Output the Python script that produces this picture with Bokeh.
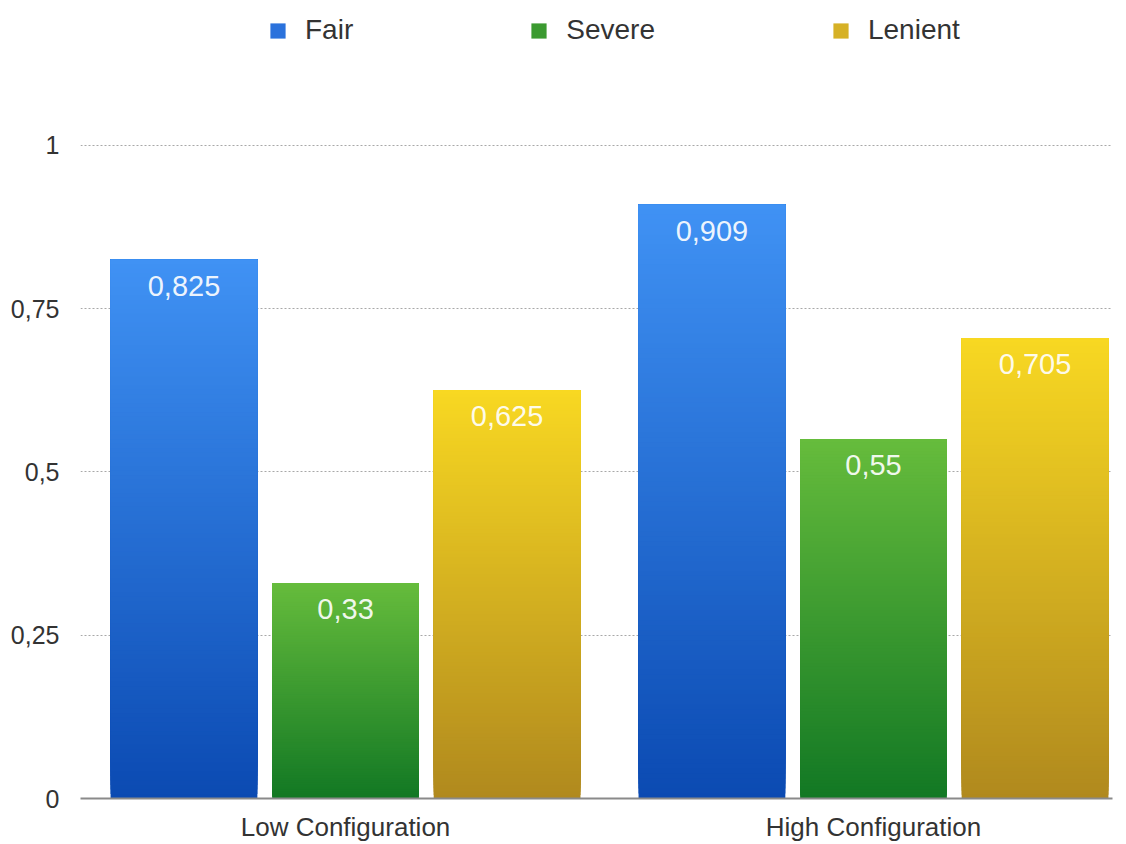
from bokeh.plotting import figure
from bokeh.models import FixedTicker, Legend, LegendItem, ColumnDataSource, Range1d
from bokeh.core.properties import value
from bokeh.embed import file_html
from bokeh.resources import INLINE

# ---- data ----
categories = ["Low Configuration", "High Configuration"]
series = ["Fair", "Severe", "Lenient"]
fair = [0.825, 0.909]
severe = [0.33, 0.55]
lenient = [0.625, 0.705]
y_ticks = [0, 0.25, 0.5, 0.75, 1]
y_tick_labels = ["0", "0,25", "0,5", "0,75", "1"]

# ---- styles ----
top_colors = {"Fair": (64, 146, 244), "Severe": (102, 188, 60), "Lenient": (248, 216, 34)}
bot_colors = {"Fair": (11, 74, 178), "Severe": (18, 120, 36), "Lenient": (176, 137, 30)}
mid_colors = {"Fair": "#2b72dc", "Severe": "#3b9a30", "Lenient": "#d6b126"}
offsets = [-0.306, 0.0, 0.306]
bar_w = 0.278
N = 120

p = figure(width=1126, height=844, output_backend="svg", toolbar_location=None,
           x_range=Range1d(-0.502, 1.4527), y_range=Range1d(0, 799 / 654.0),
           min_border_left=80, min_border_right=14, min_border_top=0, min_border_bottom=45)
p.outline_line_color = None
p.background_fill_color = "white"
p.border_fill_color = "white"

data = {"Fair": fair, "Severe": severe, "Lenient": lenient}

def hexc(c):
    return "#%02x%02x%02x" % tuple(int(round(v)) for v in c)

label_x, label_y, label_t = [], [], []
legend_items = []
for si, s in enumerate(series):
    left, right, bottom, top, cols = [], [], [], [], []
    for gi, v in enumerate(data[s]):
        cx = gi + offsets[si]
        for k in range(N):
            t = (k + 0.5) / N
            c = [bot_colors[s][j] + (top_colors[s][j] - bot_colors[s][j]) * t for j in range(3)]
            left.append(cx - bar_w / 2)
            right.append(cx + bar_w / 2)
            bottom.append(v * k / N)
            top.append(v)
            cols.append(hexc(c))
        label_x.append(cx)
        label_y.append(v)
        label_t.append(("%g" % v).replace(".", ","))
    src = ColumnDataSource(dict(left=left, right=right, bottom=bottom, top=top, c=cols))
    p.quad(left="left", right="right", bottom="bottom", top="top", source=src,
           fill_color="c", line_color=None)
    # legend proxy (flat mid colour), drawn outside the visible range
    r = p.quad(left=[0], right=[0.1], bottom=[-2], top=[-1.9], fill_color=mid_colors[s],
               line_color=None)
    legend_items.append(LegendItem(label=s, renderers=[r]))

p.text(x=label_x, y=label_y, text=label_t, text_color="white", text_alpha=0.92,
       text_font=value("Liberation Sans"), text_font_size="29px",
       text_align="center", text_baseline="middle", y_offset=26)

legend = Legend(items=legend_items, orientation="horizontal", location=(188, 752),
                spacing=176, padding=0, margin=0, glyph_width=19, glyph_height=19,
                label_standoff=18, label_text_font="Liberation Sans",
                label_text_font_size="28px", label_text_color="#333333",
                border_line_color=None, background_fill_alpha=0)
p.add_layout(legend)

# axes
p.xaxis.ticker = FixedTicker(ticks=[0, 1])
p.xaxis.major_label_overrides = {0: categories[0], 1: categories[1]}
p.xaxis.major_tick_line_color = None
p.xaxis.minor_tick_line_color = None
p.xaxis.axis_line_color = "#8a8a8a"
p.xaxis.axis_line_width = 2
p.xaxis.major_label_text_font = "Liberation Sans"
p.xaxis.major_label_text_font_size = "26px"
p.xaxis.major_label_text_color = "#333333"
p.xaxis.major_label_standoff = 7

p.yaxis.ticker = FixedTicker(ticks=y_ticks)
p.yaxis.major_label_overrides = {t: l for t, l in zip(y_ticks, y_tick_labels)}
p.yaxis.major_tick_line_color = None
p.yaxis.minor_tick_line_color = None
p.yaxis.axis_line_color = None
p.yaxis.major_label_text_font = "Liberation Sans"
p.yaxis.major_label_text_font_size = "25px"
p.yaxis.major_label_text_color = "#333333"
p.yaxis.major_label_standoff = 15

p.xgrid.grid_line_color = None
p.ygrid.grid_line_color = "#a8a8a8"
p.ygrid.grid_line_dash = "2 2"
p.ygrid.grid_line_width = 1

open("out.html", "w").write(file_html(p, INLINE))
